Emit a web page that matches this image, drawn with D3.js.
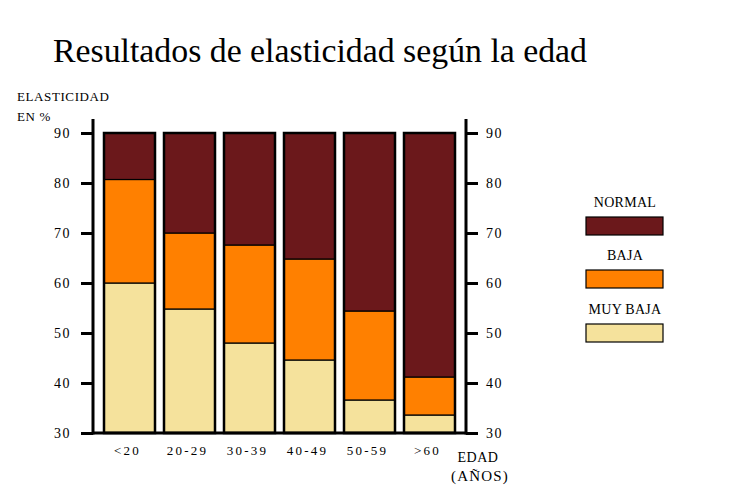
<!DOCTYPE html>
<html>
<head>
<meta charset="utf-8">
<script src="https://cdn.jsdelivr.net/npm/d3@7"></script>
<style>
  body { margin: 0; background: #fff; }
  text { font-family: "Liberation Serif", "DejaVu Serif", serif; }
</style>
</head>
<body>
<script>
// elasticity by age, stacked from 30
var ages = ['<20', '20-29', '30-39', '40-49', '50-59', '>60'];
var muyBajaTop = [60, 54.8, 48, 44.6, 36.6, 33.6];
var bajaTop = [80.7, 70, 67.6, 64.8, 54.4, 41.2];
var normalTop = [90, 90, 90, 90, 90, 90];
var series = ['NORMAL', 'BAJA', 'MUY BAJA'];
var colors = ['#6b181b', '#ff8000', '#f5e29c'];
var yTicks = [30, 40, 50, 60, 70, 80, 90];

var width = 733, height = 500;
var x0 = 93, x1 = 466, yTop = 133, yBot = 433;

var svg = d3.select('body').append('svg')
  .attr('width', width)
  .attr('height', height);

var xScale = d3.scaleBand().domain(ages).range([104, 455]).paddingInner(0.15).paddingOuter(0);
var yScale = d3.scaleLinear().domain([30, 90]).range([yBot, yTop]);

svg.append('text')
  .attr('x', 53).attr('y', 62)
  .attr('font-size', 33.8)
  .text('Resultados de elasticidad según la edad');

svg.append('text').attr('x', 17).attr('y', 101).attr('font-size', 13).attr('letter-spacing', 0.6).text('ELASTICIDAD');
svg.append('text').attr('x', 17).attr('y', 121).attr('font-size', 13).attr('letter-spacing', 0.6).text('EN %');

// bars
var segs = [];
ages.forEach(function(a, i) {
  segs.push({age: a, lo: 30, hi: muyBajaTop[i], c: colors[2]});
  segs.push({age: a, lo: muyBajaTop[i], hi: bajaTop[i], c: colors[1]});
  segs.push({age: a, lo: bajaTop[i], hi: normalTop[i], c: colors[0]});
});

svg.selectAll('rect.seg').data(segs).enter().append('rect')
  .attr('class', 'seg')
  .attr('x', function(d) { return xScale(d.age); })
  .attr('width', xScale.bandwidth())
  .attr('y', function(d) { return yScale(d.hi); })
  .attr('height', function(d) { return yScale(d.lo) - yScale(d.hi); })
  .attr('fill', function(d) { return d.c; })
  .attr('stroke', '#000')
  .attr('stroke-width', 1.2);

// outline around each full bar
svg.selectAll('rect.outline').data(ages).enter().append('rect')
  .attr('x', function(d) { return xScale(d); })
  .attr('width', xScale.bandwidth())
  .attr('y', yScale(90))
  .attr('height', yScale(30) - yScale(90))
  .attr('fill', 'none')
  .attr('stroke', '#000')
  .attr('stroke-width', 2.5);

// axes
var left = d3.axisLeft(yScale).tickValues(yTicks).tickSize(12).tickPadding(10);
var right = d3.axisRight(yScale).tickValues(yTicks).tickSize(12).tickPadding(8);

function styleAxis(g) {
  g.select('.domain').remove();
  g.selectAll('line').attr('stroke', '#000').attr('stroke-width', 3);
  g.selectAll('text').attr('font-size', 14).attr('font-family', '"DejaVu Serif", serif').attr('letter-spacing', 1.5);
}

svg.append('g').attr('transform', 'translate(' + x0 + ',0)').call(left).call(styleAxis);
svg.append('g').attr('transform', 'translate(' + x1 + ',0)').call(right).call(styleAxis);

svg.append('line').attr('x1', x0).attr('x2', x0).attr('y1', 119).attr('y2', yBot + 1.5)
  .attr('stroke', '#000').attr('stroke-width', 3);
svg.append('line').attr('x1', x1).attr('x2', x1).attr('y1', 119).attr('y2', yBot + 1.5)
  .attr('stroke', '#000').attr('stroke-width', 3);
svg.append('line').attr('x1', x0).attr('x2', x1).attr('y1', yBot).attr('y2', yBot)
  .attr('stroke', '#000').attr('stroke-width', 3);

// x labels
svg.selectAll('text.xl').data(ages).enter().append('text')
  .attr('class', 'xl')
  .attr('x', function(d) { return xScale(d) + xScale.bandwidth() / 2 - 2; })
  .attr('y', 455)
  .attr('text-anchor', 'middle')
  .attr('font-size', 13)
  .attr('font-family', '"DejaVu Serif", serif')
  .attr('letter-spacing', 2.2)
  .text(function(d) { return d; });

svg.append('text').attr('x', 478).attr('y', 462).attr('text-anchor', 'middle').attr('font-size', 14).attr('letter-spacing', 0.5).text('EDAD');
svg.append('text').attr('x', 480).attr('y', 481).attr('text-anchor', 'middle').attr('font-size', 15).attr('letter-spacing', 1.2).text('(AÑOS)');

// legend
var legY = [217, 270, 324];
var lg = svg.selectAll('g.leg').data(series).enter().append('g').attr('class', 'leg');
lg.append('text')
  .attr('x', 625)
  .attr('y', function(d, i) { return legY[i] - 10; })
  .attr('text-anchor', 'middle')
  .attr('font-size', 14)
  .attr('letter-spacing', 0.3)
  .text(function(d) { return d; });
lg.append('rect')
  .attr('x', 586).attr('width', 77)
  .attr('y', function(d, i) { return legY[i]; })
  .attr('height', 18)
  .attr('fill', function(d, i) { return colors[i]; })
  .attr('stroke', '#000')
  .attr('stroke-width', 1.2);
</script>
</body>
</html>
